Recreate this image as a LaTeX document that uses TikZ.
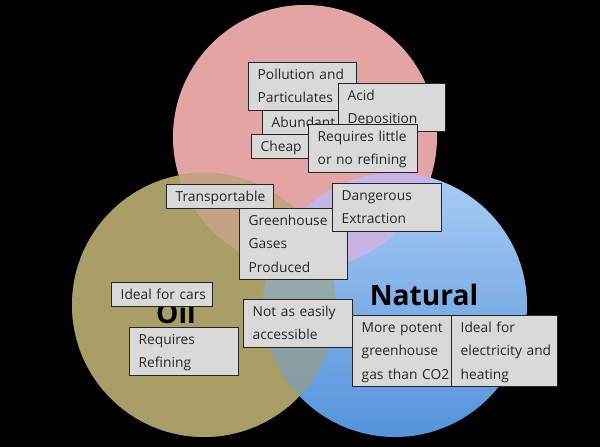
\documentclass[tikz,border=0pt]{standalone}
\usepackage{fontspec}
\setmainfont{Open Sans}

\definecolor{coalset}{RGB}{226,164,164}
\definecolor{oilset}{RGB}{168,158,104}
\definecolor{gastop}{RGB}{170,204,245}
\definecolor{gasbottom}{RGB}{85,147,219}
\definecolor{coaloil}{RGB}{196,163,133}
\definecolor{coalgas}{RGB}{198,180,228}
\definecolor{cardfill}{RGB}{217,217,217}

\tikzset{
    card/.style={draw=black!85, line width=0.8pt, fill=cardfill, text=black!85,
        anchor=north west, inner xsep=0pt, inner ysep=0.2pt,
        font=\fontsize{9.8}{16.7}\selectfont,
        execute at begin node={\raggedright\leftskip=6.5pt\strut},
        execute at end node=\strut},
    setname/.style={anchor=base, text=black, font=\fontsize{20}{24}\selectfont\bfseries}
}

\begin{document}
\begin{tikzpicture}
    \fill[black] (0,0) rectangle (15,11.175);
    \useasboundingbox (0,0) rectangle (15,11.175);

    % Circles
    \fill[coalset] (7.625,7.75) circle (3.3);
    \fill[oilset] (5.1,3.55) circle (3.3);
    \shade[top color=gastop, bottom color=gasbottom] (9.875,3.55) circle (3.3);

    % Overlaps
    \fill[oilset, opacity=0.5] (5.1,3.55) circle (3.3);
    \begin{scope}
        \clip (7.625,7.75) circle (3.3);
        \fill[coaloil] (5.1,3.55) circle (3.3);
        \fill[coalgas] (9.875,3.55) circle (3.3);
    \end{scope}

    % Set names
    \node[setname] (oil) at (4.4,3.075) {Oil};
    \node[setname] (natural) at (10.6,3.525) {Natural};

    % Top set
    \node[card, text width=2.7cm] (pollution) at (6.2,9.625) {Pollution and\\Particulates};
    \node[card, text width=2.7cm] (abundant) at (6.55,8.425) {Abundant};
    \node[card, text width=2.675cm] (acid) at (8.45,9.1) {Acid\\Deposition};
    \node[card, text width=2.7cm] (cheap) at (6.275,7.825) {Cheap};
    \node[card, text width=2.725cm] (little) at (7.7,8.075) {Requires little\\or no refining};

    % Shared
    \node[card, text width=2.675cm] (transport) at (4.15,6.575) {Transportable};
    \node[card, text width=2.7cm] (greenhouse) at (5.975,5.975) {Greenhouse\\Gases\\Produced};
    \node[card, text width=2.725cm] (danger) at (8.3,6.6) {Dangerous\\Extraction};
    \node[card, text width=2.725cm] (access) at (6.075,3.7) {Not as easily\\accessible};

    % Oil
    \node[card, text width=2.525cm] (cars) at (2.775,4.125) {Ideal for cars};
    \node[card, text width=2.725cm] (refining) at (3.225,3.0) {Requires\\Refining};

    % Natural
    \node[card, text width=2.475cm] (potent) at (8.8,3.3) {More potent\\greenhouse\\gas than CO2};
    \node[card, text width=2.65cm] (heating) at (11.275,3.3) {Ideal for\\electricity and\\heating};
\end{tikzpicture}
\end{document}
